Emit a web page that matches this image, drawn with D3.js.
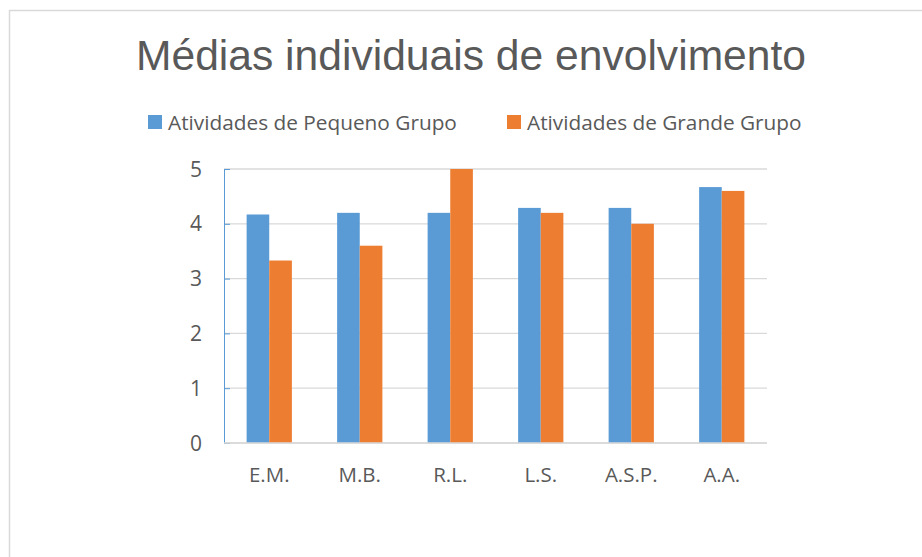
<!DOCTYPE html>
<html>
<head>
<meta charset="utf-8">
<script src="https://cdn.jsdelivr.net/npm/d3@7"></script>
<style>
  body { margin: 0; background: #fff; }
  text { fill: #595959; }
</style>
</head>
<body>
<script>
const categories = ['E.M.', 'M.B.', 'R.L.', 'L.S.', 'A.S.P.', 'A.A.'];
const seriesNames = ['Atividades de Pequeno Grupo', 'Atividades de Grande Grupo'];
const smallGroup = [4.17, 4.2, 4.2, 4.29, 4.29, 4.67];
const largeGroup = [3.33, 3.6, 5, 4.2, 4, 4.6];
const yTicks = [0, 1, 2, 3, 4, 5];
const colors = ['#5B9BD5', '#ED7D31'];

const width = 922, height = 557;
const margin = { top: 169, left: 224, right: 155, bottom: 114 };

const svg = d3.select('body').append('svg')
    .attr('width', width)
    .attr('height', height);

// chart frame
svg.append('rect')
    .attr('x', 9.5).attr('y', 10.5)
    .attr('width', width).attr('height', height)
    .attr('fill', 'none')
    .attr('stroke', '#d9d9d9')
    .attr('stroke-width', 1.5);

svg.append('text')
    .attr('x', 471).attr('y', 70)
    .attr('text-anchor', 'middle')
    .style('font-family', 'Liberation Sans, Arial, sans-serif')
    .style('font-size', '42.6px')
    .text('Médias individuais de envolvimento');

const x = d3.scaleBand()
    .domain(categories)
    .range([margin.left, width - margin.right])
    .paddingInner(0.5)
    .paddingOuter(0.25);

const xSub = d3.scaleBand().domain([0, 1]).range([0, x.bandwidth()]);

const y = d3.scaleLinear()
    .domain([0, 5])
    .range([height - margin.bottom, margin.top]);

// gridlines
svg.append('g')
    .selectAll('line')
    .data(yTicks)
    .enter()
    .append('line')
    .attr('x1', margin.left).attr('x2', width - margin.right)
    .attr('y1', d => y(d)).attr('y2', d => y(d))
    .attr('stroke', '#d9d9d9')
    .attr('stroke-width', 1.3);

// y axis
const yAxis = svg.append('g')
    .attr('transform', `translate(${margin.left},0)`)
    .call(d3.axisRight(y).tickValues(yTicks).tickSize(6).tickFormat(''));
yAxis.selectAll('path, line').attr('stroke', '#5B9BD5');

svg.append('g')
    .selectAll('text')
    .data(yTicks)
    .enter()
    .append('text')
    .attr('x', 202).attr('y', d => y(d) + 7.5)
    .attr('text-anchor', 'end')
    .style('font-family', 'Open Sans, sans-serif')
    .style('font-size', '21px')
    .text(d => d);

// bars
const rows = categories.map((c, i) => ({ cat: c, values: [smallGroup[i], largeGroup[i]] }));

svg.append('g')
    .selectAll('g')
    .data(rows)
    .enter()
    .append('g')
    .attr('transform', d => `translate(${x(d.cat)},0)`)
    .selectAll('rect')
    .data(d => d.values.map((v, k) => ({ k, v })))
    .enter()
    .append('rect')
    .attr('x', d => xSub(d.k))
    .attr('y', d => y(d.v))
    .attr('width', xSub.bandwidth())
    .attr('height', d => y(0) - y(d.v))
    .attr('fill', d => colors[d.k]);

// x axis line
svg.append('line')
    .attr('x1', margin.left).attr('x2', width - margin.right)
    .attr('y1', y(0)).attr('y2', y(0))
    .attr('stroke', '#d9d9d9')
    .attr('stroke-width', 1.5);

svg.append('g')
    .selectAll('text')
    .data(categories)
    .enter()
    .append('text')
    .attr('x', d => x(d) + x.bandwidth() / 2)
    .attr('y', 482)
    .attr('text-anchor', 'middle')
    .style('font-family', 'Open Sans, sans-serif')
    .style('font-size', '20.5px')
    .text(d => d);

// legend
const legendX = [148, 507];
const legend = svg.append('g')
    .selectAll('g')
    .data(seriesNames)
    .enter()
    .append('g')
    .attr('transform', (d, i) => `translate(${legendX[i]},115)`);

legend.append('rect')
    .attr('width', 14).attr('height', 14)
    .attr('fill', (d, i) => colors[i]);

legend.append('text')
    .attr('x', 20).attr('y', 14.5)
    .style('font-family', 'Open Sans, sans-serif')
    .style('font-size', '20.8px')
    .text(d => d);
</script>
</body>
</html>
